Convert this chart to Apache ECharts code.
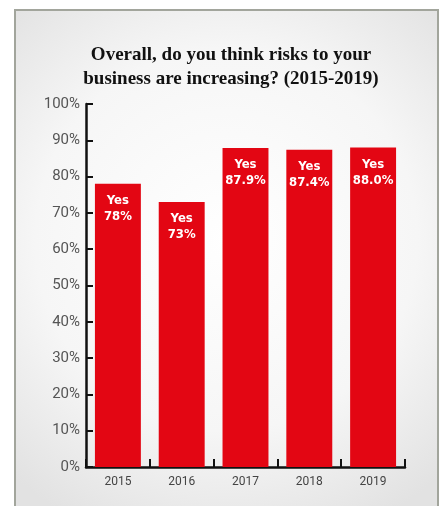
<!DOCTYPE html>
<html>
<head>
<meta charset="utf-8">
<script src="https://cdn.jsdelivr.net/npm/echarts@6/dist/echarts.min.js"></script>
<style>
  html, body { margin: 0; padding: 0; background: #ffffff; }
  #chart { width: 439px; height: 506px; }
</style>
</head>
<body>
<div id="chart"></div>
<script>
// Survey years and share of respondents answering "Yes" (%)
const years = ['2015', '2016', '2017', '2018', '2019'];
const yesShare = [78, 73, 87.9, 87.4, 88.0];
const shareDecimals = [0, 0, 1, 1, 1];
const answerLabel = 'Yes';
const titleLines = ['Overall, do you think risks to your', 'business are increasing? (2015-2019)'];

const chart = echarts.init(document.getElementById('chart'), null, { renderer: 'canvas' });

chart.setOption({
  animation: false,
  backgroundColor: '#ffffff',
  graphic: [
    {
      type: 'rect',
      z: -10,
      shape: { x: 15, y: 10, width: 423, height: 510 },
      style: {
        fill: new echarts.graphic.RadialGradient(0.5, 0.45, 0.75, [
          { offset: 0, color: '#ffffff' },
          { offset: 0.6, color: '#f6f6f6' },
          { offset: 1, color: '#e2e2e2' }
        ]),
        stroke: '#a2a59c',
        lineWidth: 2
      }
    }
  ],
  title: {
    text: titleLines.join('\n'),
    left: 226,
    textAlign: 'center',
    top: 38,
    textStyle: {
      fontFamily: '"Liberation Serif", "DejaVu Serif", serif',
      fontWeight: 'bold',
      fontSize: 19,
      lineHeight: 24,
      color: '#111111'
    }
  },
  grid: { left: 86, right: 34, top: 104, bottom: 39 },
  xAxis: {
    type: 'category',
    data: years,
    axisLine: { lineStyle: { color: '#111111', width: 2.5 } },
    axisTick: { show: true, inside: true, length: 8, lineStyle: { color: '#111111', width: 2 } },
    axisLabel: { color: '#444444', fontSize: 12, fontFamily: 'Roboto, sans-serif', margin: 9 }
  },
  yAxis: {
    type: 'value',
    min: 0,
    max: 100,
    interval: 10,
    splitLine: { show: false },
    axisLine: { show: true, lineStyle: { color: '#111111', width: 2.5 } },
    axisTick: { show: true, inside: true, length: 7, lineStyle: { color: '#111111', width: 2 } },
    axisLabel: {
      formatter: '{value}%',
      color: '#555555',
      fontSize: 15,
      fontFamily: 'Roboto, sans-serif',
      margin: 6
    }
  },
  series: [
    {
      type: 'bar',
      data: yesShare,
      barCategoryGap: '28%',
      itemStyle: { color: '#e30613' },
      label: {
        show: true,
        position: 'insideTop',
        distance: 9,
        color: '#ffffff',
        fontWeight: 'bold',
        fontSize: 13,
        lineHeight: 16,
        fontFamily: '"DejaVu Sans Condensed", Roboto, sans-serif',
        formatter: (p) => answerLabel + '\n' + yesShare[p.dataIndex].toFixed(shareDecimals[p.dataIndex]) + '%'
      }
    }
  ]
});
</script>
</body>
</html>
